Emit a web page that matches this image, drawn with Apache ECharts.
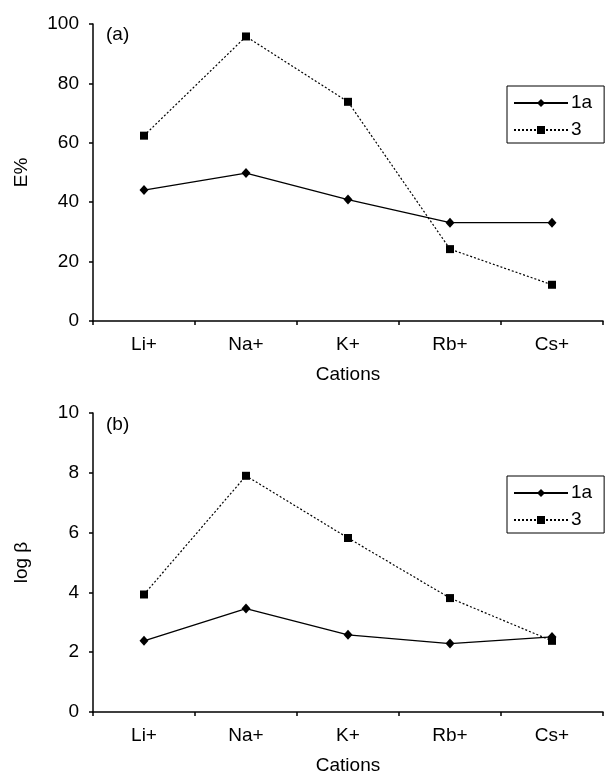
<!DOCTYPE html>
<html>
<head>
<meta charset="utf-8">
<script src="https://cdn.jsdelivr.net/npm/echarts@6/dist/echarts.min.js"></script>
<style>
html,body{margin:0;padding:0;background:#fff;}
#chart{width:612px;height:776px;}
</style>
</head>
<body>
<div id="chart"></div>
<script>
// ---- data ----
const categories = ['Li+', 'Na+', 'K+', 'Rb+', 'Cs+'];
const seriesNames = ['1a', '3'];
// panel (a): E%
const ePct_1a = [44.1, 49.8, 40.9, 33.1, 33.1];
const ePct_3  = [62.4, 95.8, 73.8, 24.2, 12.2];
// panel (b): log beta
const logB_1a = [2.38, 3.46, 2.58, 2.29, 2.51];
const logB_3  = [3.93, 7.90, 5.82, 3.81, 2.38];
const yTicksA = { min: 0, max: 100, interval: 20 };
const yTicksB = { min: 0, max: 10, interval: 2 };
const panelLabels = ['(a)', '(b)'];
const yTitles = ['E%', 'log β'];
const xTitle = 'Cations';

const FONT = 'Liberation Sans, Arial, sans-serif';
const FS = 19;
const BLACK = '#000';

function xAxis(gi) {
  return {
    type: 'category', gridIndex: gi, data: categories, boundaryGap: true,
    name: xTitle, nameLocation: 'middle', nameGap: 44,
    nameTextStyle: { fontFamily: FONT, fontSize: FS, color: BLACK },
    axisLine: { lineStyle: { color: BLACK, width: 1.5 } },
    axisTick: { show: true, inside: false, length: 4, lineStyle: { color: BLACK, width: 1.5 } },
    axisLabel: { fontFamily: FONT, fontSize: FS, color: BLACK, margin: 14 },
    splitLine: { show: false }
  };
}
function yAxis(gi, t, title) {
  return {
    type: 'value', gridIndex: gi, min: t.min, max: t.max, interval: t.interval,
    name: title, nameLocation: 'middle', nameGap: 62, nameRotate: 90,
    nameTextStyle: { fontFamily: FONT, fontSize: FS, color: BLACK },
    axisLine: { show: true, lineStyle: { color: BLACK, width: 1.5 } },
    axisTick: { show: true, length: 4, lineStyle: { color: BLACK, width: 1.5 } },
    axisLabel: { fontFamily: FONT, fontSize: FS, color: BLACK, margin: 14 },
    splitLine: { show: false }
  };
}
function solidSeries(gi, data) {
  return {
    name: seriesNames[0], type: 'line', xAxisIndex: gi, yAxisIndex: gi, data: data,
    symbol: 'diamond', symbolSize: [9, 10], color: BLACK,
    lineStyle: { color: BLACK, width: 1.3, type: 'solid' },
    itemStyle: { color: BLACK }, animation: false, z: 3
  };
}
function dotSeries(gi, data) {
  return {
    name: seriesNames[1], type: 'line', xAxisIndex: gi, yAxisIndex: gi, data: data,
    symbol: 'rect', symbolSize: 8, color: BLACK,
    lineStyle: { color: BLACK, width: 1.2, type: [2, 2] },
    itemStyle: { color: BLACK }, animation: false, z: 2
  };
}
function legend(top) {
  return {
    data: seriesNames, orient: 'vertical', left: 507, top: top,
    padding: [7, 12, 3, 6], itemGap: 7, itemWidth: 54, itemHeight: 10,
    borderColor: BLACK, borderWidth: 1, borderRadius: 0,
    textStyle: { fontFamily: FONT, fontSize: FS, color: BLACK, lineHeight: 20, padding: [0, 0, 0, -2] },
    selectedMode: false
  };
}

const chart = echarts.init(document.getElementById('chart'), null, { renderer: 'canvas' });
chart.setOption({
  backgroundColor: '#fff',
  animation: false,
  grid: [
    { left: 93, right: 9, top: 24, height: 297 },
    { left: 93, right: 9, top: 413, height: 300 }
  ],
  xAxis: [xAxis(0), xAxis(1)],
  yAxis: [yAxis(0, yTicksA, yTitles[0]), yAxis(1, yTicksB, yTitles[1])],
  legend: [legend(86), legend(476)],
  series: [
    solidSeries(0, ePct_1a), dotSeries(0, ePct_3),
    solidSeries(1, logB_1a), dotSeries(1, logB_3)
  ],
  graphic: [
    { type: 'text', left: 106, top: 25, style: { text: panelLabels[0], font: FS + 'px ' + FONT, fill: BLACK } },
    { type: 'text', left: 106, top: 415, style: { text: panelLabels[1], font: FS + 'px ' + FONT, fill: BLACK } }
  ]
});
</script>
</body>
</html>
